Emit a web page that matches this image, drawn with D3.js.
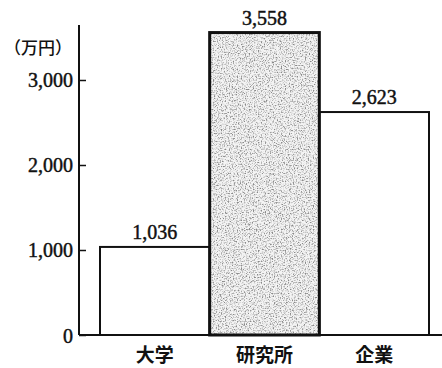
<!DOCTYPE html>
<html>
<head>
<meta charset="utf-8">
<script src="https://cdn.jsdelivr.net/npm/d3@7"></script>
<style>
  html, body { margin: 0; padding: 0; background: #fff; }
  svg { display: block; }
  .num { font-family: "Liberation Serif", "DejaVu Serif", serif; fill: #111; stroke: #111; stroke-width: 0.45px; }
  .jp { font-family: "Noto Sans CJK JP", sans-serif; fill: #111; }
</style>
</head>
<body>
<svg id="chart" width="442" height="368"></svg>
<script>
// Average research spending per researcher, by sector (万円)
const categories = ["大学", "研究所", "企業"];
const values = [1036, 3558, 2623];
const tickValues = [0, 1000, 2000, 3000];
const unitLabel = "（万円）";

const svg = d3.select("#chart");
const baseY = 335, topY = 25, axisX = 79;

const y = d3.scaleLinear().domain([0, 3647]).range([baseY, topY]);
const x = d3.scaleBand().domain(categories).range([100, 429]).padding(0);

// grainy halftone texture for the highlighted bar
const defs = svg.append("defs");
const f = defs.append("filter").attr("id", "grain")
  .attr("x", 0).attr("y", 0).attr("width", 1).attr("height", 1);
f.append("feTurbulence").attr("type", "fractalNoise")
  .attr("baseFrequency", "0.75").attr("numOctaves", 3).attr("seed", 7).attr("result", "n");
f.append("feColorMatrix").attr("in", "n").attr("type", "matrix")
  .attr("values", "0 0 0 0 0.25  0 0 0 0 0.25  0 0 0 0 0.25  0 0 0 -3.2 1.75").attr("result", "dots");
f.append("feFlood").attr("flood-color", "#f4f4f4").attr("result", "paper");
f.append("feComposite").attr("in", "dots").attr("in2", "paper").attr("operator", "over");

// bars
const bars = svg.append("g");
bars.selectAll("rect.fill")
  .data(values)
  .join("rect")
  .attr("x", (d, i) => x(categories[i]))
  .attr("y", d => y(d))
  .attr("width", x.bandwidth())
  .attr("height", d => baseY - y(d))
  .attr("fill", "#fff")
  .attr("filter", (d, i) => i === 1 ? "url(#grain)" : null);

bars.selectAll("rect.edge")
  .data(values)
  .join("rect")
  .attr("x", (d, i) => x(categories[i]))
  .attr("y", d => y(d))
  .attr("width", x.bandwidth())
  .attr("height", d => baseY - y(d))
  .attr("fill", "none")
  .attr("stroke", "#111")
  .attr("stroke-width", (d, i) => i === 1 ? 3 : 2);

// value labels
svg.append("g").selectAll("text")
  .data(values)
  .join("text")
  .attr("class", "num")
  .attr("x", (d, i) => x(categories[i]) + x.bandwidth() / 2)
  .attr("y", d => y(d) - 8)
  .attr("text-anchor", "middle")
  .attr("font-size", 20)
  .text(d => d3.format(",")(d));

// y axis
const yAxis = d3.axisLeft(y).tickValues(tickValues).tickFormat(d3.format(","))
  .tickSize(8).tickPadding(3);
const gy = svg.append("g").attr("transform", `translate(${axisX},0)`).call(yAxis);
gy.select(".domain").remove();
gy.selectAll(".tick line").attr("stroke", "#111").attr("stroke-width", 1.5)
  .attr("x1", 0).attr("x2", 7);
gy.selectAll(".tick text").attr("class", "num").attr("font-size", 20)
  .attr("x", -6).attr("dy", "0.35em");

svg.append("line")
  .attr("x1", axisX).attr("x2", axisX)
  .attr("y1", topY).attr("y2", baseY)
  .attr("stroke", "#111").attr("stroke-width", 2);

// baseline
svg.append("line")
  .attr("x1", axisX).attr("x2", 442)
  .attr("y1", baseY).attr("y2", baseY)
  .attr("stroke", "#111").attr("stroke-width", 2);

// unit label
svg.append("text").attr("class", "jp")
  .attr("x", 38).attr("y", 54)
  .attr("text-anchor", "middle")
  .attr("font-size", 17)
  .attr("font-weight", 500)
  .text(unitLabel);

// category labels
svg.append("g").selectAll("text")
  .data(categories)
  .join("text")
  .attr("class", "jp")
  .attr("x", d => x(d) + x.bandwidth() / 2)
  .attr("y", 362)
  .attr("text-anchor", "middle")
  .attr("font-size", 19)
  .attr("font-weight", 700)
  .text(d => d);
</script>
</body>
</html>
